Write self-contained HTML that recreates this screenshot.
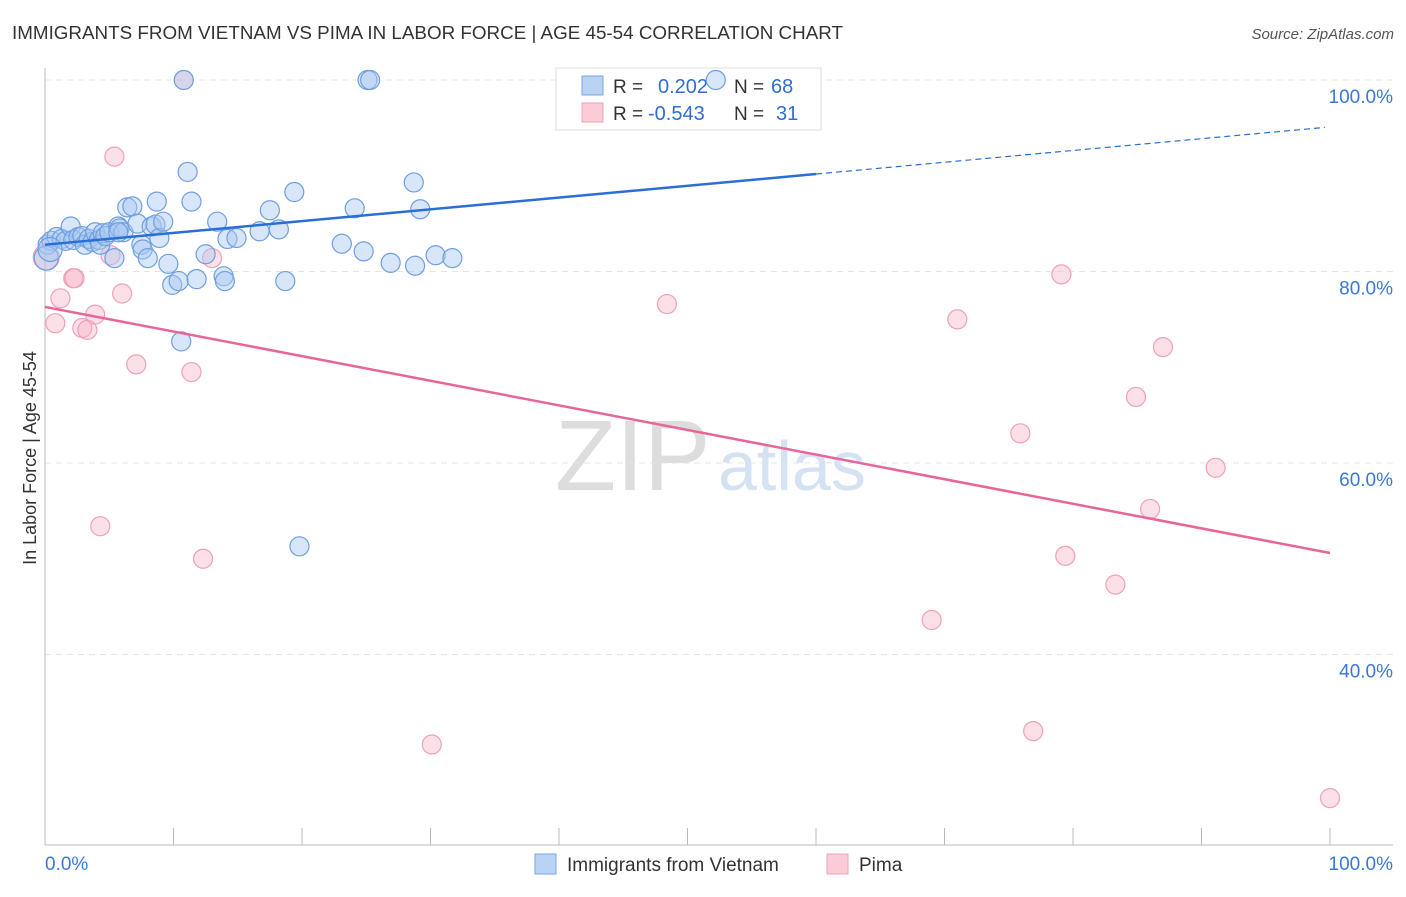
<!DOCTYPE html>
<html><head><meta charset="utf-8"><style>
body{margin:0;background:#fff;font-family:"Liberation Sans",sans-serif;}
svg text{font-family:"Liberation Sans",sans-serif;}
</style></head><body>
<svg id="c" width="1406" height="892" viewBox="0 0 1406 892">
<text x="12" y="39" font-size="18" fill="#333" textLength="831" lengthAdjust="spacingAndGlyphs">IMMIGRANTS FROM VIETNAM VS PIMA IN LABOR FORCE | AGE 45-54 CORRELATION CHART</text>
<text x="1394" y="39" font-size="15" fill="#555" font-style="italic" text-anchor="end">Source: ZipAtlas.com</text>
<text x="36" y="458" font-size="18" fill="#333" text-anchor="middle" transform="rotate(-90 36 458)">In Labor Force | Age 45-54</text>
<text x="555" y="490" font-size="100" fill="#ddd" font-family="Liberation Serif">ZIP</text>
<text x="718" y="490" font-size="70" fill="#d4e2f4">atlas</text>
<g id="grid"></g>
<g>
<rect x="556" y="68" width="265" height="62" fill="#fff" fill-opacity="0.85" stroke="#ddd"/>
<rect x="582" y="76" width="21" height="19" fill="#b9d3f5" stroke="#7aa6e0"/>
<rect x="582" y="103" width="21" height="19" fill="#fccbd8" stroke="#f0a0b8"/>
<text x="613" y="93" font-size="19" fill="#333">R = </text><text x="658" y="93" font-size="20" fill="#2f6fd0">0.202</text>
<text x="734" y="93" font-size="19" fill="#333">N = </text><text x="771" y="93" font-size="20" fill="#2f6fd0">68</text>
<text x="613" y="120" font-size="19" fill="#333">R = </text><text x="648" y="120" font-size="20" fill="#2f6fd0">-0.543</text>
<text x="734" y="120" font-size="19" fill="#333">N = </text><text x="776" y="120" font-size="20" fill="#2f6fd0">31</text>
</g>
<g id="pts"></g><g id="lines"></g>
<g>
<rect x="535" y="854" width="21" height="20" fill="#b9d3f5" stroke="#7aa6e0"/>
<text x="567" y="871" font-size="19" fill="#333">Immigrants from Vietnam</text>
<rect x="827" y="854" width="21" height="20" fill="#fccbd8" stroke="#f0a0b8"/>
<text x="859" y="871" font-size="19" fill="#333">Pima</text>
</g>
</svg>
<script>
const yTicks=[100,80,60,40];
const xTickVals=[0,10,20,30,40,50,60,70,80,90,100];
const blueX=[0.2,0.5,0.9,1.3,1.6,2,2.2,2.6,2.9,3.1,3.4,3.7,3.9,4.2,4.3,4.5,4.7,5,5.4,5.7,5.8,6.1,6.4,6.8,7.2,7.5,7.6,8,8.3,8.6,8.7,8.9,9.2,9.6,9.9,10.4,10.6,11.1,11.4,11.8,12.5,13.4,13.9,14,14.2,14.9,16.7,17.5,18.2,18.7,19.4,19.8,23.1,24.1,24.8,25.1,25.3,26.9,28.7,28.8,29.2,30.4,31.7,10.8,52.2,0.1,0.4,5.7];
const blueY=[82.8,83.2,83.6,83.4,83.2,84.7,83.3,83.6,83.7,82.8,83.4,83.1,84.1,83.3,82.8,84,83.7,84.1,81.4,84.7,84.5,84.1,86.7,86.8,85,82.8,82.3,81.4,84.7,84.9,87.3,83.5,85.2,80.8,78.6,79,72.7,90.4,87.3,79.2,81.8,85.2,79.5,79,83.4,83.5,84.2,86.4,84.4,79,88.3,51.3,82.9,86.6,82.1,100,100,80.9,89.3,80.6,86.5,81.7,81.4,100,100,81.4,82.3,84.1];
const pinkX=[0.1,0.8,1.2,2.2,2.3,2.9,3.3,3.9,4.3,5.4,5.1,6,7.1,11.4,12.3,13,10.8,30.1,48.4,69,71.0,75.9,76.9,79.1,79.4,83.3,84.9,86,87,91.1,100];
const pinkY=[81.5,74.6,77.2,79.3,79.3,74.1,73.9,75.5,53.4,92,81.7,77.7,70.3,69.5,50,81.4,100,30.6,76.6,43.6,75,63.1,32,79.7,50.3,47.3,66.9,55.2,72.1,59.5,25];
const blueLine=[82.8,95.1], pinkLine=[76.3,50.6];
const X=v=>45+v*12.85, Y=v=>80+(100-v)*9.575;
const NS='http://www.w3.org/2000/svg';
function mk(t,a,p){const e=document.createElementNS(NS,t);for(const k in a)e.setAttribute(k,a[k]);p.appendChild(e);return e;}
const g=document.getElementById('grid');
yTicks.forEach(v=>{
 const l=mk('line',{x1:45,x2:1393,y1:Y(v),y2:Y(v),stroke:'#e4e4e4','stroke-dasharray':'6,5'},g);
 
 
 const t=mk('text',{x:1393,y:Y(v)+23,'font-size':19,fill:'#3a78d8','text-anchor':'end'},g);t.textContent=v.toFixed(1)+'%';
 
 
});
mk('line',{x1:45,x2:45,y1:68,y2:845,stroke:'#bbb'},g);
mk('line',{x1:45,x2:1393,y1:845,y2:845,stroke:'#bbb'},g);
xTickVals.forEach(v=>{const l=mk('line',{x1:X(v),x2:X(v),y1:828,y2:845,stroke:'#bbb'},g);
 
 });
[[0,'start',45,'x-tick-label-min'],[100,'end',1393,'x-tick-label-max']].forEach(a=>{const t=mk('text',{x:a[2],y:870,'font-size':19,fill:'#3a78d8','text-anchor':a[1]},g);t.textContent=a[0].toFixed(1)+'%';
 
 });
const p=document.getElementById('pts');
pinkX.forEach((x,i)=>{const c=mk('circle',{cx:X(x),cy:Y(pinkY[i]),r:i==0?13:9.5,fill:'rgba(248,178,198,0.4)',stroke:'#f0a0b8','stroke-width':1.2},p);
 
 });
blueX.forEach((x,i)=>{const c=mk('circle',{cx:X(x),cy:Y(blueY[i]),r:i>=65&&i<67?12:9.5,fill:'rgba(168,200,242,0.45)',stroke:'#6f9fe0','stroke-width':1.2},p);
 
 });
const L=document.getElementById('lines');
const by=x=>blueLine[0]+(blueLine[1]-blueLine[0])*x/100;
let l1=mk('line',{x1:X(0),y1:Y(by(0)),x2:X(60),y2:Y(by(60)),stroke:'#2a6fd6','stroke-width':2.5},L);


let l2=mk('line',{x1:X(60),y1:Y(by(60)),x2:X(99.6),y2:Y(by(99.6)),stroke:'#2a6fd6','stroke-width':1.2,'stroke-dasharray':'6,4'},L);


let l3=mk('line',{x1:X(0),y1:Y(pinkLine[0]),x2:X(100),y2:Y(pinkLine[1]),stroke:'#e8659a','stroke-width':2.5},L);


</script>
</body></html>
